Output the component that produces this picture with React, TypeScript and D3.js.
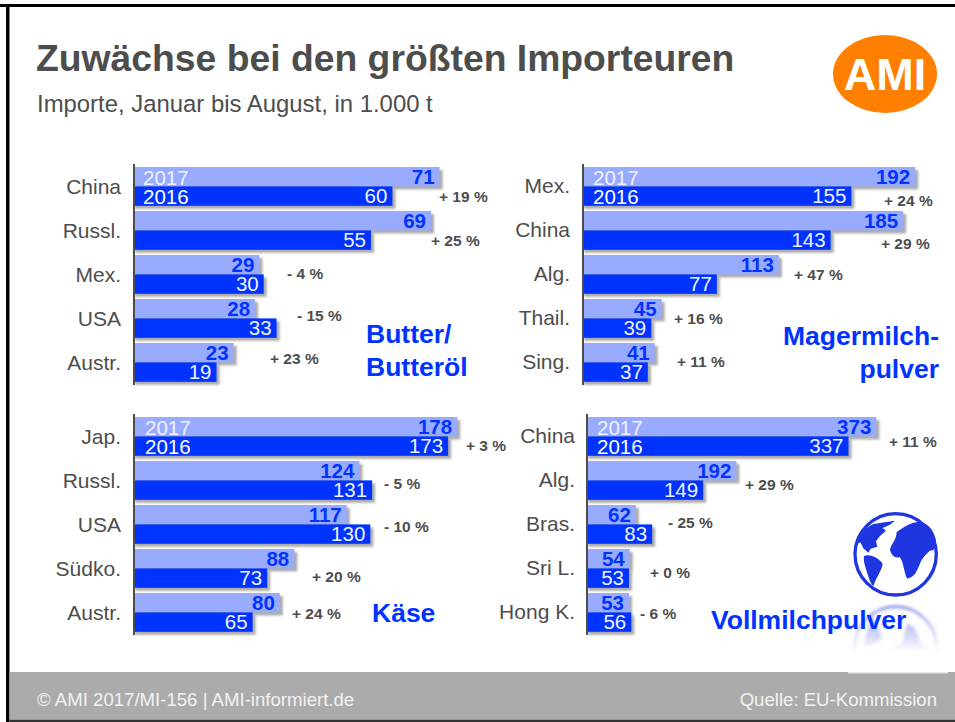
import React from "react";
import * as d3 from "d3";

const years = ["2017", "2016"];
const butterCats = ["China", "Russl.", "Mex.", "USA", "Austr."];
const butter2017 = [71, 69, 29, 28, 23];
const butter2016 = [60, 55, 30, 33, 19];
const butterPct = ["+ 19 %", "+ 25 %", "- 4 %", "- 15 %", "+ 23 %"];
const smpCats = ["Mex.", "China", "Alg.", "Thail.", "Sing."];
const smp2017 = [192, 185, 113, 45, 41];
const smp2016 = [155, 143, 77, 39, 37];
const smpPct = ["+ 24 %", "+ 29 %", "+ 47 %", "+ 16 %", "+ 11 %"];
const cheeseCats = ["Jap.", "Russl.", "USA", "Südko.", "Austr."];
const cheese2017 = [178, 124, 117, 88, 80];
const cheese2016 = [173, 131, 130, 73, 65];
const cheesePct = ["+ 3 %", "- 5 %", "- 10 %", "+ 20 %", "+ 24 %"];
const wmpCats = ["China", "Alg.", "Bras.", "Sri L.", "Hong K."];
const wmp2017 = [373, 192, 62, 54, 53];
const wmp2016 = [337, 149, 83, 53, 56];
const wmpPct = ["+ 11 %", "+ 29 %", "- 25 %", "+ 0 %", "- 6 %"];

const GREY = "#4d4d4d";
const BLUE = "#0033ff";
const LIGHT = "#99abff";
const FONT = "'Liberation Sans', Arial, sans-serif";

type PanelProps = {
  cats: string[]; a: number[]; b: number[]; pct: string[];
  x0: number; y0: number; perUnit: number; labelX: number; labelDy: number; yearX: number;
  pctX: number[]; pctDy: number[];
};

function Panel({ cats, a, b, pct, x0, y0, perUnit, labelX, labelDy, yearX, pctX, pctDy }: PanelProps) {
  const x = d3.scaleLinear().domain([0, 100]).range([x0, x0 + perUnit * 100]);
  const y = d3.scaleBand<string>().domain(cats).range([y0, y0 + 220]).paddingInner(0).paddingOuter(0);
  const bh = 19.4;
  return (
    <g fontFamily={FONT}>
      {cats.map((c, i) => {
        const top = y(c)!;
        return (
          <g key={c}>
            <rect x={x0} y={top + 3} width={x(a[i]) - x0 + 3} height={bh} fill="#888" opacity={0.7} filter="url(#soft)" />
            <rect x={x0} y={top + bh + 3} width={x(b[i]) - x0 + 3} height={bh} fill="#888" opacity={0.7} filter="url(#soft)" />
            <rect x={x0} y={top} width={x(a[i]) - x0} height={bh} fill={LIGHT} />
            <rect x={x0} y={top + bh} width={x(b[i]) - x0} height={bh} fill={BLUE} />
            <text x={labelX} y={top + labelDy} textAnchor="end" fontSize={21} fill={GREY}>{c}</text>
            <text x={x(a[i]) - 5} y={top + 17} textAnchor="end" fontSize={20.5} fontWeight="bold" fill={BLUE}>{a[i]}</text>
            <text x={x(b[i]) - 5} y={top + bh + 17} textAnchor="end" fontSize={20.5} fill="#eef1ff">{b[i]}</text>
            <text x={pctX[i]} y={top + pctDy[i] + 5.5} fontSize={15.5} fontWeight="bold" fill={GREY}>{pct[i]}</text>
          </g>
        );
      })}
      <text x={yearX} y={y0 + 17.5} fontSize={20.5} fill="#eef1ff">{years[0]}</text>
      <text x={yearX} y={y0 + bh + 17.5} fontSize={20.5} fill="#fff">{years[1]}</text>
      <line x1={x0 - 1} x2={x0 - 1} y1={y0 - 3} y2={y0 + 218} stroke={GREY} strokeWidth={2} />
    </g>
  );
}

function GlobeShape() {
  return (
    <g transform="translate(700 500) scale(0.3333)">
      <circle cx={587} cy={163} r={122} fill="#fff" stroke="#1f35e0" strokeWidth={10} />
      <g fill="#1f35e0">
        <path d="M468 128 C474 105 490 88 520 72 L585 62 L570 74 L548 84 L558 92 L540 108 L528 124 L532 140 L512 146 L505 158 L490 145 L482 128 Z" />
        <path d="M492 168 C510 160 540 176 548 192 C545 212 530 230 520 258 C510 250 504 225 497 205 C493 190 490 180 492 168 Z" />
        <path d="M570 148 C575 130 590 118 590 96 C615 80 640 60 670 68 C690 75 705 100 708 122 L700 152 C690 148 685 158 672 170 C662 180 658 200 650 212 C645 225 635 232 622 236 C612 220 612 190 600 172 C585 176 572 165 570 148 Z" />
        <path d="M640 204 L651 198 L647 220 L638 222 Z" />
      </g>
    </g>
  );
}

export default function App() {
  return (
    <svg width={955} height={722} viewBox="0 0 955 722" style={{ position: "absolute", left: 0, top: 0, background: "#fff" }}>
      <defs>
        <filter id="soft" x="-5%" y="-20%" width="110%" height="140%"><feGaussianBlur stdDeviation={1.2} /></filter>
        <filter id="soft2" x="-10%" y="-10%" width="120%" height="120%"><feGaussianBlur stdDeviation={1.6} /></filter>
        <linearGradient id="fade" x1="0" y1="0" x2="0" y2="1">
          <stop offset="0" stopColor="#fff" stopOpacity={0.6} />
          <stop offset="1" stopColor="#fff" stopOpacity={0} />
        </linearGradient>
        <mask id="refl" maskUnits="userSpaceOnUse" x={840} y={600} width={115} height={52}>
          <rect x={840} y={600} width={115} height={52} fill="url(#fade)" />
        </mask>
      </defs>

      <rect x={0} y={4} width={955} height={3} fill="#000" />
      <rect x={6} y={4} width={3.5} height={718} fill="#000" />
      <rect x={9.5} y={672} width={946} height={47} fill="#ababab" />
      <rect x={9.5} y={719.5} width={946} height={2.5} fill="#333" />
      <rect x={848} y={672} width={100} height={1.5} fill="#e6e6e6" />

      <g mask="url(#refl)">
        <g filter="url(#soft2)" transform="translate(0 1202) scale(1 -1)"><GlobeShape /></g>
      </g>
      <GlobeShape />

      <text x={36} y={71} fontFamily={FONT} fontSize={37.3} fontWeight="bold" fill={GREY}>Zuwächse bei den größten Importeuren</text>
      <text x={37} y={112} fontFamily={FONT} fontSize={23.9} fill={GREY}>Importe, Januar bis August, in 1.000 t</text>

      <ellipse cx={885} cy={74} rx={52} ry={39} fill="#ff7f00" />
      <text x={885} y={90} textAnchor="middle" fontFamily={FONT} fontSize={45} fontWeight="bold" fill="#fff">AMI</text>

      <Panel cats={butterCats} a={butter2017} b={butter2016} pct={butterPct} x0={135} y0={167} perUnit={4.29} labelX={121} labelDy={27} yearX={143}
        pctX={[439, 431, 287, 297, 270]} pctDy={[29, 29, 18, 16, 15]} />
      <Panel cats={smpCats} a={smp2017} b={smp2016} pct={smpPct} x0={584} y0={167} perUnit={1.725} labelX={570} labelDy={26} yearX={593}
        pctX={[884, 881, 794, 674, 677]} pctDy={[33, 32, 19, 19, 18]} />
      <Panel cats={cheeseCats} a={cheese2017} b={cheese2016} pct={cheesePct} x0={135} y0={417} perUnit={1.81} labelX={121} labelDy={27} yearX={145}
        pctX={[466, 384, 384, 312, 292]} pctDy={[28, 22, 21, 27, 20]} />
      <Panel cats={wmpCats} a={wmp2017} b={wmp2016} pct={wmpPct} x0={588} y0={417} perUnit={0.773} labelX={575} labelDy={26} yearX={597}
        pctX={[889, 745, 668, 650, 640]} pctDy={[24, 23, 17, 23, 20]} />

      <g fontFamily={FONT} fontSize={26.5} fontWeight="bold" fill={BLUE}>
        <text x={366} y={343}>Butter/</text>
        <text x={366} y={376}>Butteröl</text>
        <text x={939} y={345} textAnchor="end">Magermilch-</text>
        <text x={939} y={378} textAnchor="end">pulver</text>
        <text x={372} y={622}>Käse</text>
        <text x={711} y={629}>Vollmilchpulver</text>
      </g>

      <g fontFamily={FONT} fontSize={18.6} fill="#f2f2f2">
        <text x={37} y={706}>© AMI 2017/MI-156 | AMI-informiert.de</text>
        <text x={937} y={706} textAnchor="end">Quelle: EU-Kommission</text>
      </g>
    </svg>
  );
}
